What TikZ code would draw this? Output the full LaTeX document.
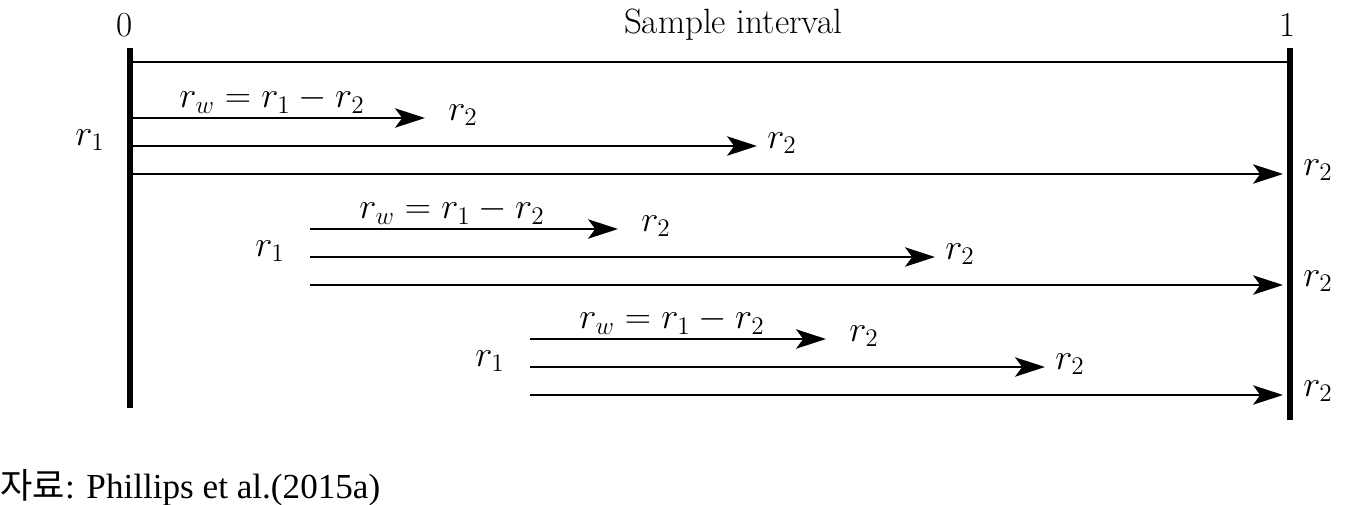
\documentclass[tikz,border=0pt]{standalone}
\usepackage{fontspec}
\setmainfont{Liberation Serif}
\newfontfamily\krfont{Noto Sans CJK KR}
\usepackage{tikz}
\usetikzlibrary{arrows.meta}

\begin{document}
\begin{tikzpicture}[x=0.02cm,y=-0.02cm,
    bar/.style={line width=3pt},
    run/.style={line width=1.1pt,-{Stealth[length=17pt,width=11pt,inset=4pt]}},
    lbl/.style={font=\fontsize{20}{24}\selectfont,inner sep=0pt}]

    \useasboundingbox (0,0) rectangle (1349,504);

    % The sample interval and its end marks
    \coordinate (s0top) at (130,48);
    \coordinate (s0bot) at (130,408);
    \coordinate (s1top) at (1290,48);
    \coordinate (s1bot) at (1290,420);
    \coordinate (lineL) at (130,62);
    \coordinate (lineR) at (1290,62);
    \draw[bar] (s0top) -- (s0bot);
    \draw[bar] (s1top) -- (s1bot);
    \draw[line width=1.3pt] (lineL) -- (lineR);
    \node[lbl] (zero) at (125,25) {\fontfamily{lmr}\selectfont 0};
    \node[lbl] (one) at (1288,25) {\fontfamily{lmr}\selectfont 1};
    \node[lbl] (title) at (733,25) {\fontfamily{lmr}\selectfont Sample interval};

    % Three groups of windows: start, top y, first and second ends
    \foreach \g/\xs/\yt/\ea/\eb in {1/130/118/425/757, 2/310/229/618/935, 3/530/339/826/1045}{%
      \coordinate (a\g) at (\xs,\yt);
      \coordinate (b\g) at (\xs,\yt+28);
      \coordinate (c\g) at (\xs,\yt+56);
      \coordinate (ea\g) at (\ea,\yt);
      \coordinate (eb\g) at (\eb,\yt+28);
      \coordinate (ec\g) at (1283,\yt+56);
      \draw[run] (a\g) -- (ea\g);
      \draw[run] (b\g) -- (eb\g);
      \draw[run] (c\g) -- (ec\g);
      \node[lbl] (ra\g) at (\ea+38,\yt-3) {$r_2$};
      \node[lbl] (rb\g) at (\eb+25,\yt+25) {$r_2$};
      \node[lbl] (rc\g) at (1318,\yt+52) {$r_2$};
      \node[lbl] (rw\g) at (\xs+142,\yt-18) {$r_w = r_1 - r_2$};
      \node[lbl] (ro\g) at (\xs-40,\yt+22) {$r_1$};
    }

    \node[lbl,anchor=west] (source) at (0,488) {{\krfont 자료}: Phillips et al.(2015a)};

\end{tikzpicture}
\end{document}
